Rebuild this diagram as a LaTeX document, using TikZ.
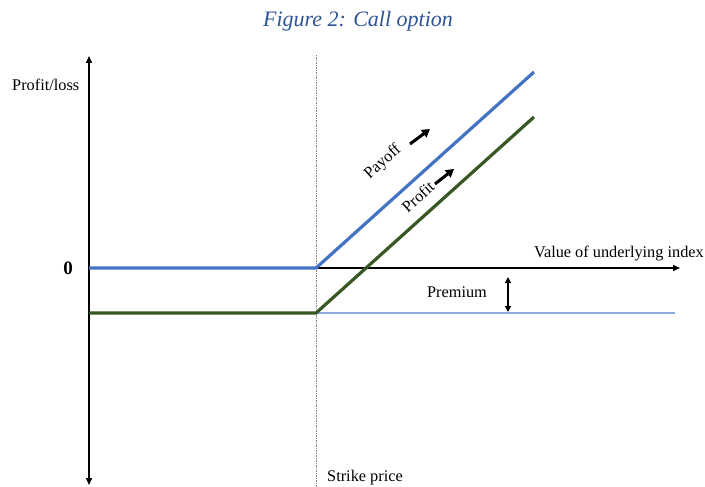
\documentclass[tikz,border=0pt]{standalone}
\usepackage{fontspec}
\setmainfont{Liberation Serif}
\usetikzlibrary{arrows.meta}
\definecolor{capblue}{HTML}{2F5496}
\definecolor{payblue}{HTML}{4472C4}
\definecolor{profgreen}{HTML}{385723}
\definecolor{thinblue}{HTML}{8FAADC}
\tikzset{
  lbl/.style={inner sep=0pt, font=\fontsize{16.3}{18}\selectfont},
  axis/.style={line width=1.5pt, -{Triangle[length=7pt,width=6pt]}},
  curve/.style={line width=3.2pt},
  tarrow/.style={line width=3pt, -{Triangle[length=8pt,width=9pt]}}
}
\begin{document}
\begin{tikzpicture}[x=1pt,y=-1pt]
\useasboundingbox (0,0) rectangle (705,487);
% coordinates
\coordinate (ytop) at (89,56);
\coordinate (ybot) at (89,485);
\coordinate (o) at (89,268);
\coordinate (xend) at (680,268);
\coordinate (k) at (316,268);
\coordinate (kp) at (316,313);
\coordinate (gl) at (89,313);
\coordinate (bend) at (534,72);
\coordinate (gend) at (534,117);
\coordinate (stop) at (316,55);
\coordinate (sbot) at (316,487);
\coordinate (tbend) at (675,313);
\coordinate (pa1) at (508,277);
\coordinate (pa2) at (508,312);
\coordinate (ar1a) at (410,144);
\coordinate (ar1b) at (430,129);
\coordinate (ar2a) at (435,184);
\coordinate (ar2b) at (454,169);
% title
\node[inner sep=0pt, text=capblue, font=\fontsize{22}{24}\itshape] (title) at (358,21) {Figure 2: Call option};
% strike line
\draw[gray, line width=0.9pt, dash pattern=on 1.5pt off 1pt] (stop) -- (sbot);
% thin premium line
\draw[thinblue, line width=1.1pt] (kp) -- (tbend);
% axes
\draw[axis] (o) -- (xend);
\draw[line width=1.5pt, {Triangle[length=7pt,width=6pt]}-{Triangle[length=7pt,width=6pt]}] (ytop) -- (ybot);
% curves
\draw[curve, payblue] (o) -- (k) -- (bend);
\draw[curve, profgreen] (gl) -- (kp) -- (gend);
% premium arrow
\draw[line width=1.3pt, {Triangle[length=6pt,width=6pt]}-{Triangle[length=6pt,width=6pt]}] (pa1) -- (pa2);
% labels
\node[lbl, anchor=west] (pl) at (12,85) {Profit/loss};
\node[lbl, font=\fontsize{19}{21}\bfseries] (zero) at (68,268) {0};
\node[lbl, anchor=east] (vui) at (704,254) {Value of underlying index};
\node[lbl] (prem) at (457,292) {Premium};
\node[lbl, anchor=west] (sp) at (327,478) {Strike price};
\node[lbl, rotate=42] (payoff) at (383,162) {Payoff};
\node[lbl, rotate=42] (profit) at (418,197) {Profit};
\draw[tarrow] (ar1a) -- (ar1b);
\draw[tarrow] (ar2a) -- (ar2b);
\end{tikzpicture}
\end{document}
